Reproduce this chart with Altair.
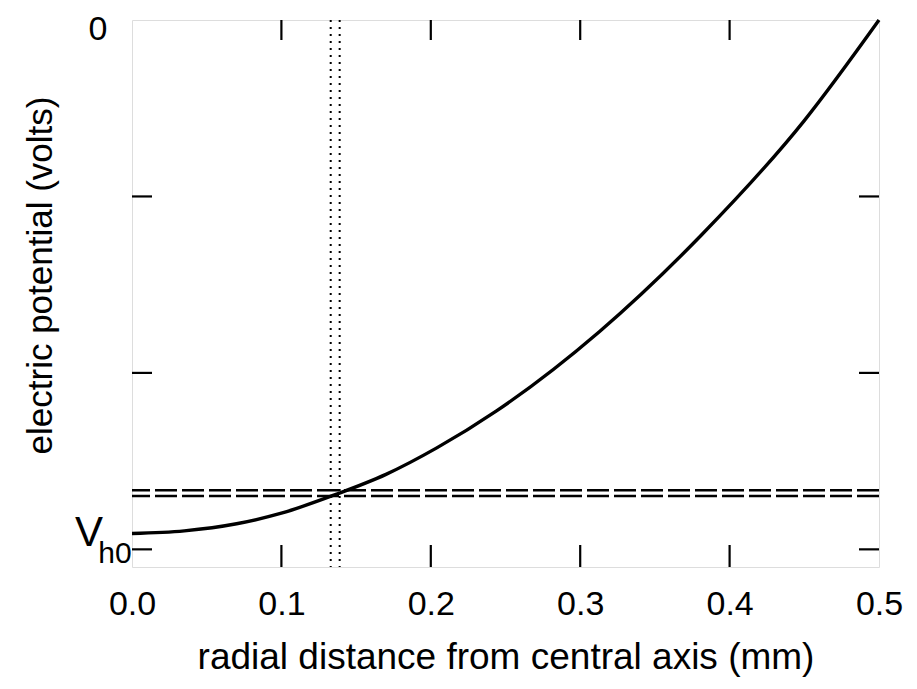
import altair as alt
import pandas as pd

# ---- data ----
curve_r = [0.0, 0.035, 0.07, 0.10, 0.136, 0.17, 0.204, 0.244, 0.313, 0.381, 0.45, 0.5]
curve_v = [-2.91, -2.895, -2.855, -2.795, -2.69, -2.575, -2.425, -2.215, -1.765, -1.22, -0.57, 0.0]
x_label_values = [0.0, 0.1, 0.2, 0.3, 0.4, 0.5]
y_label_values = [0]
inner_x_ticks = [0.1, 0.2, 0.3, 0.4]
inner_y_ticks = [-1, -2, -3]
dashed_levels = [-2.665, -2.697]
dotted_r = [0.133, 0.139]
vh0_label = ["V"]
vh0_sub = ["h0"]

W, H = 747, 547
FONT = "Liberation Sans"

xs = alt.Scale(domain=[0, 0.5], nice=False, zero=False)
ys = alt.Scale(domain=[-3.1, 0], nice=False, zero=False)

x_axis = alt.Axis(values=x_label_values, format=".1f",
                  title="radial distance from central axis (mm)",
                  ticks=False, tickSize=0, domain=False, grid=False, labelFlush=False,
                  labelFontSize=34, labelPadding=20, labelFont=FONT, labelColor="black",
                  titleFont=FONT, titleFontSize=37, titleFontWeight="normal", titleColor="black",
                  titleY=101, titleBaseline="alphabetic")
y_axis = alt.Axis(values=y_label_values, format="d",
                  title="electric potential (volts)",
                  ticks=False, tickSize=0, domain=False, grid=False, labelFlush=False,
                  labelFontSize=34, labelPadding=25, labelFont=FONT, labelColor="black",
                  labelBaseline="middle", labelOffset=9,
                  titleFont=FONT, titleFontSize=35, titleFontWeight="normal", titleColor="black",
                  titleAngle=-90, titleX=-92, titleY=255, titleBaseline="middle", titleAlign="center")

X = alt.X("r:Q", scale=xs, axis=x_axis)
Y = alt.Y("v:Q", scale=ys, axis=y_axis)

curve = alt.Chart(pd.DataFrame({"r": curve_r, "v": curve_v})).mark_line(
    color="black", strokeWidth=3.4, interpolate="monotone").encode(x=X, y=Y)

hdash = alt.Chart(pd.DataFrame({"v": dashed_levels})).mark_rule(
    color="black", strokeWidth=2.5, strokeDash=[22, 5]).encode(y=Y)

vdot = alt.Chart(pd.DataFrame({"r": dotted_r})).mark_rule(
    color="black", strokeWidth=2, strokeDash=[2, 5]).encode(x=X)

xt = pd.DataFrame({"r": inner_x_ticks})
yt = pd.DataFrame({"v": inner_y_ticks})
tick_bottom = alt.Chart(xt).mark_rule(color="black", strokeWidth=2.2).encode(
    x=X, y=alt.value(H), y2=alt.value(H - 22))
tick_top = alt.Chart(xt).mark_rule(color="black", strokeWidth=2.2).encode(
    x=X, y=alt.value(0), y2=alt.value(20))
tick_left = alt.Chart(yt).mark_rule(color="black", strokeWidth=2.2).encode(
    y=Y, x=alt.value(0), x2=alt.value(20))
tick_right = alt.Chart(yt).mark_rule(color="black", strokeWidth=2.2).encode(
    y=Y, x=alt.value(W), x2=alt.value(W - 20))

vlab = alt.Chart(pd.DataFrame({"v": [curve_v[0]], "t": vh0_label})).mark_text(
    font=FONT, fontSize=42, color="black", align="center", baseline="middle").encode(
    y=Y, x=alt.value(-43), text="t:N")
sublab = alt.Chart(pd.DataFrame({"v": [curve_v[0]], "t": vh0_sub})).mark_text(
    font=FONT, fontSize=30, color="black", align="center", baseline="middle", dy=21).encode(
    y=Y, x=alt.value(-17), text="t:N")

chart = alt.layer(curve, hdash, vdot, tick_bottom, tick_top, tick_left, tick_right,
                  vlab, sublab).properties(
    width=W, height=H,
    autosize=alt.AutoSizeParams(type="none"),
    padding={"left": 124, "top": 12, "right": 30, "bottom": 110},
).configure_view(stroke="black", strokeWidth=2.6).configure(background="white")

chart.save("out.html", embed_options={"renderer": "svg", "actions": False})
